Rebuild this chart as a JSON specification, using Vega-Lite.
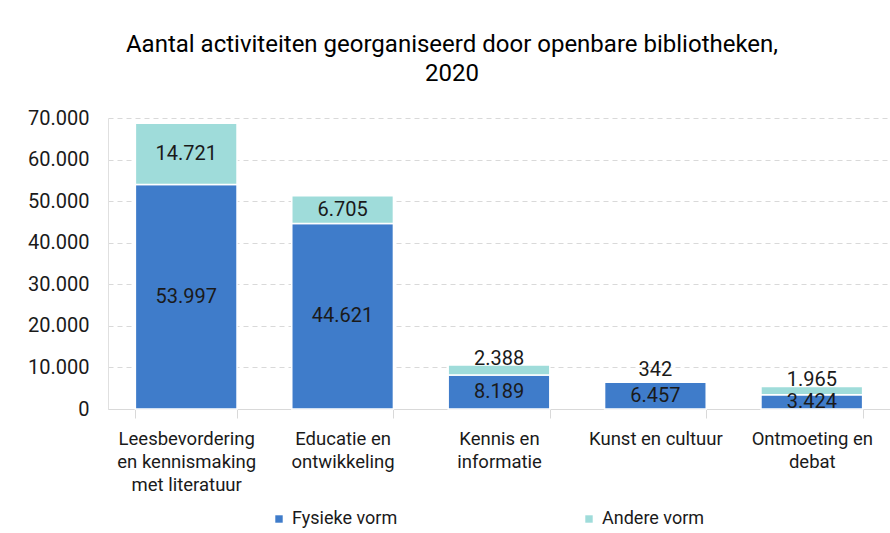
{
  "$schema": "https://vega.github.io/schema/vega-lite/v6.json",
  "width": 782,
  "height": 291,
  "autosize": {"type": "none"},
  "padding": {"left": 108, "top": 118, "right": 0, "bottom": 124},
  "background": "white",
  "config": {
    "font": "Roboto",
    "locale": {"number": {"decimal": ",", "thousands": ".", "grouping": [3], "currency": ["€", ""]}},
    "view": {"stroke": null}
  },
  "title": {
    "text": ["Aantal activiteiten georganiseerd door openbare bibliotheken,", "2020"],
    "fontSize": 24,
    "fontWeight": "normal",
    "color": "#000000",
    "lineHeight": 29,
    "anchor": "middle",
    "dx": -47,
    "offset": 22
  },
  "data": {
    "values": [
      {"category": "Leesbevordering en kennismaking met literatuur", "vorm": "Fysieke vorm", "vorm_order": 1, "value": 53997},
      {"category": "Leesbevordering en kennismaking met literatuur", "vorm": "Andere vorm", "vorm_order": 2, "value": 14721},
      {"category": "Educatie en ontwikkeling", "vorm": "Fysieke vorm", "vorm_order": 1, "value": 44621},
      {"category": "Educatie en ontwikkeling", "vorm": "Andere vorm", "vorm_order": 2, "value": 6705},
      {"category": "Kennis en informatie", "vorm": "Fysieke vorm", "vorm_order": 1, "value": 8189},
      {"category": "Kennis en informatie", "vorm": "Andere vorm", "vorm_order": 2, "value": 2388},
      {"category": "Kunst en cultuur", "vorm": "Fysieke vorm", "vorm_order": 1, "value": 6457},
      {"category": "Kunst en cultuur", "vorm": "Andere vorm", "vorm_order": 2, "value": 342},
      {"category": "Ontmoeting en debat", "vorm": "Fysieke vorm", "vorm_order": 1, "value": 3424},
      {"category": "Ontmoeting en debat", "vorm": "Andere vorm", "vorm_order": 2, "value": 1965}
    ]
  },
  "encoding": {
    "x": {
      "field": "category",
      "type": "nominal",
      "sort": ["Leesbevordering en kennismaking met literatuur", "Educatie en ontwikkeling", "Kennis en informatie", "Kunst en cultuur", "Ontmoeting en debat"],
      "scale": {"paddingInner": 0.35, "paddingOuter": 0.175},
      "axis": {
        "title": null,
        "labelAngle": 0,
        "labelFontSize": 18.5,
        "labelColor": "#1a1a1a",
        "labelLineHeight": 23,
        "labelPadding": 11,
        "labelBaseline": "top",
        "domainColor": "#d9d9d9",
        "tickColor": "#d9d9d9",
        "tickSize": 9,
        "tickBand": "extent",
        "labelExpr": "datum.value == 'Leesbevordering en kennismaking met literatuur' ? ['Leesbevordering', 'en kennismaking', 'met literatuur'] : datum.value == 'Educatie en ontwikkeling' ? ['Educatie en', 'ontwikkeling'] : datum.value == 'Kennis en informatie' ? ['Kennis en', 'informatie'] : datum.value == 'Ontmoeting en debat' ? ['Ontmoeting en', 'debat'] : datum.value"
      }
    }
  },
  "layer": [
    {
      "mark": {"type": "bar", "stroke": "white", "strokeWidth": 1.5},
      "encoding": {
        "y": {
          "field": "value",
          "type": "quantitative",
          "stack": "zero",
          "scale": {"domain": [0, 70000], "nice": false},
          "axis": {
            "title": null,
            "values": [0, 10000, 20000, 30000, 40000, 50000, 60000, 70000],
            "format": ",d",
            "labelFontSize": 20,
            "labelColor": "#1a1a1a",
            "labelPadding": 19,
            "domainColor": "#e0e0e0",
            "ticks": false,
            "gridColor": "#d9d9d9",
            "gridDash": [5, 4]
          }
        },
        "color": {
          "field": "vorm",
          "type": "nominal",
          "scale": {"domain": ["Fysieke vorm", "Andere vorm"], "range": ["#3f7cca", "#9fdcda"]},
          "legend": {
            "title": null,
            "orient": "none",
            "direction": "horizontal",
            "legendX": 162,
            "legendY": 392,
            "columnPadding": 182,
            "symbolType": "square",
            "symbolSize": 55,
            "symbolStrokeWidth": 0,
            "labelFontSize": 18,
            "labelColor": "#1a1a1a"
          }
        },
        "order": {"field": "vorm_order", "type": "quantitative"}
      }
    },
    {
      "transform": [
        {"stack": "value", "groupby": ["category"], "sort": [{"field": "vorm_order"}], "as": ["v0", "v1"]},
        {"calculate": "(datum.v0 + datum.v1) / 2", "as": "mid"},
        {"filter": "datum.vorm_order == 1 || datum.value > 5000"}
      ],
      "mark": {"type": "text", "fontSize": 20, "color": "#1a1a1a", "baseline": "middle"},
      "encoding": {
        "y": {"field": "mid", "type": "quantitative"},
        "text": {"field": "value", "type": "quantitative", "format": ",d"}
      }
    },
    {
      "transform": [
        {"stack": "value", "groupby": ["category"], "sort": [{"field": "vorm_order"}], "as": ["v0", "v1"]},
        {"calculate": "(datum.v0 + datum.v1) / 2", "as": "mid"},
        {"filter": "datum.vorm_order == 2 && datum.value <= 5000"}
      ],
      "mark": {"type": "text", "fontSize": 20, "color": "#1a1a1a", "baseline": "middle", "dy": -11},
      "encoding": {
        "y": {"field": "mid", "type": "quantitative"},
        "text": {"field": "value", "type": "quantitative", "format": ",d"}
      }
    }
  ]
}
